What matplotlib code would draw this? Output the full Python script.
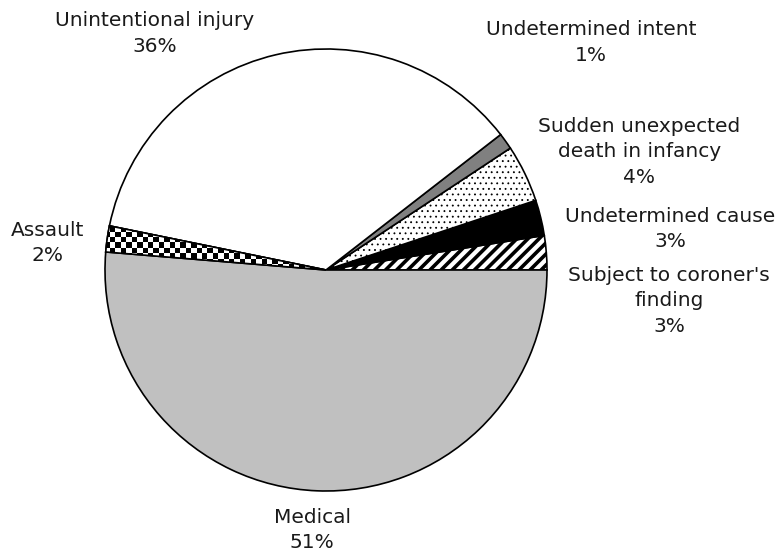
import numpy as np
import matplotlib
matplotlib.use("Agg")
import matplotlib.pyplot as plt
from matplotlib.patches import Wedge

# ---------------- data ----------------
categories = ["Subject to coroner's\nfinding", "Undetermined cause",
              "Sudden unexpected\ndeath in infancy", "Undetermined intent",
              "Unintentional injury", "Assault", "Medical"]
values = [2.5, 2.6, 4.2, 1.2, 36.3, 1.9, 51.3]
pct_labels = ["3%", "3%", "4%", "1%", "36%", "2%", "51%"]

# ---------------- styling ----------------
colors = ["white", "black", "white", "#808080", "white", "white", "#c0c0c0"]
hatches = ["///", None, "...", None, None, None, None]
hatch_lw = [2.6, None, 0.6, None, None, None, None]
# label anchor positions in pie-radius units
label_pos = [(1.552, -0.14), (1.557, 0.186), (1.417, 0.534), (1.20, 1.03),
             (-0.774, 1.07), (-1.258, 0.122), (-0.063, -1.176)]

plt.rcParams["font.family"] = ["DejaVu Sans"]
plt.rcParams["hatch.linewidth"] = 2.6

fig = plt.figure(figsize=(7.8, 5.51), dpi=100)
ax = fig.add_axes([0, 0, 1, 1])

wedges, _ = ax.pie(values, colors=colors, startangle=0, counterclock=True,
                   wedgeprops=dict(edgecolor="black", linewidth=1.2))
for w, h, lw in zip(wedges, hatches, hatch_lw):
    if h:
        w.set_hatch(h)
        if hasattr(w, "set_hatch_linewidth"):
            w.set_hatch_linewidth(lw)

# checkerboard fill for the Assault slice
n = 90
checker = (np.indices((n, n)).sum(axis=0) % 2).astype(float)
im = ax.imshow(checker, cmap="gray", extent=(-1.1, 1.1, -1.1, 1.1),
               interpolation="nearest", zorder=wedges[5].get_zorder() + 0.1)
im.set_clip_path(wedges[5])
# redraw Assault outline on top
ax.add_patch(Wedge((0, 0), 1, wedges[5].theta1, wedges[5].theta2,
                   facecolor="none", edgecolor="black", linewidth=1.2,
                   zorder=im.get_zorder() + 0.1))

for cat, pct, (x, y) in zip(categories, pct_labels, label_pos):
    ax.text(x, y, f"{cat}\n{pct}", ha="center", va="center",
            fontsize=14.5, color="#1a1a1a", linespacing=1.45)

ax.set_xlim(-326 / 221, (780 - 326) / 221)
ax.set_ylim(-(551 - 270) / 221, 270 / 221)
ax.set_aspect("equal")
ax.axis("off")

fig.savefig("out.png", dpi=100)
